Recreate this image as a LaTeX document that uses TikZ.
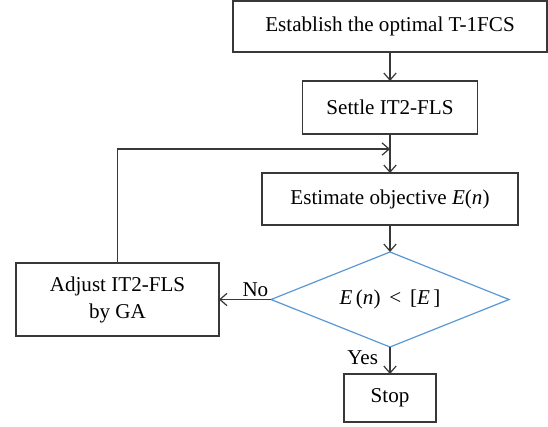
\documentclass[tikz,border=0pt]{standalone}
\usepackage{fontspec}
\setmainfont{Liberation Serif}
\usetikzlibrary{shapes.geometric,arrows.meta}

\begin{document}
\begin{tikzpicture}[x=0.2cm,y=-0.2cm,
    box/.style={draw=kLine,line width=0.7pt,inner sep=0pt,outer sep=0pt,
                align=center,font=\fontsize{12}{15.4}\selectfont},
    test/.style={diamond,aspect=2.5,draw=kBlue,line width=0.7pt,inner sep=0pt,
                 outer sep=0pt,font=\fontsize{12}{15.4}\selectfont},
    flow/.style={draw=kLine,line width=0.7pt,-{Straight Barb[length=4pt,width=7pt]}},
    lbl/.style={font=\fontsize{12}{15.4}\selectfont,inner sep=1pt}]
  \definecolor{kLine}{rgb}{0.22,0.22,0.22}
  \definecolor{kBlue}{rgb}{0.36,0.60,0.84}

  \useasboundingbox (0,0) rectangle (54.8,42.6);

  % main column
  \node[box,minimum width=6.28cm,minimum height=1.02cm] (establish) at (39,2.65)
    {Establish the optimal T-1FCS};
  \node[box,minimum width=3.5cm,minimum height=1.06cm] (settle) at (39,10.75)
    {Settle IT2-FLS};
  \node[box,minimum width=5.12cm,minimum height=1.04cm] (estimate) at (39,19.9)
    {Estimate objective \textit{E}(\textit{n})};
  \node[test,minimum width=4.76cm,minimum height=1.9cm] (check) at (39,29.95)
    {\textit{E}\,(\textit{n})\, <\, [\textit{E}\,]};
  \node[box,minimum width=1.84cm,minimum height=0.96cm] (stop) at (39,39.8)
    {Stop};

  % side branch
  \node[box,minimum width=4.06cm,minimum height=1.46cm] (adjust) at (11.75,29.95)
    {Adjust IT2-FLS\\by GA};
  \path (settle.south) ++(0,1.5) coordinate (merge);

  \draw[flow] (establish) -- (settle);
  \draw[flow] (settle) -- (estimate);
  \draw[flow] (estimate) -- (check);
  \draw[flow] (check) -- node[lbl,left=5.5pt,pos=0.4] {Yes} (stop);
  \draw[flow] (check.west) -- node[lbl,above,pos=0.3] {No} (adjust.east);
  \draw[flow] (adjust.north) |- (merge); % back into the loop
\end{tikzpicture}
\end{document}
